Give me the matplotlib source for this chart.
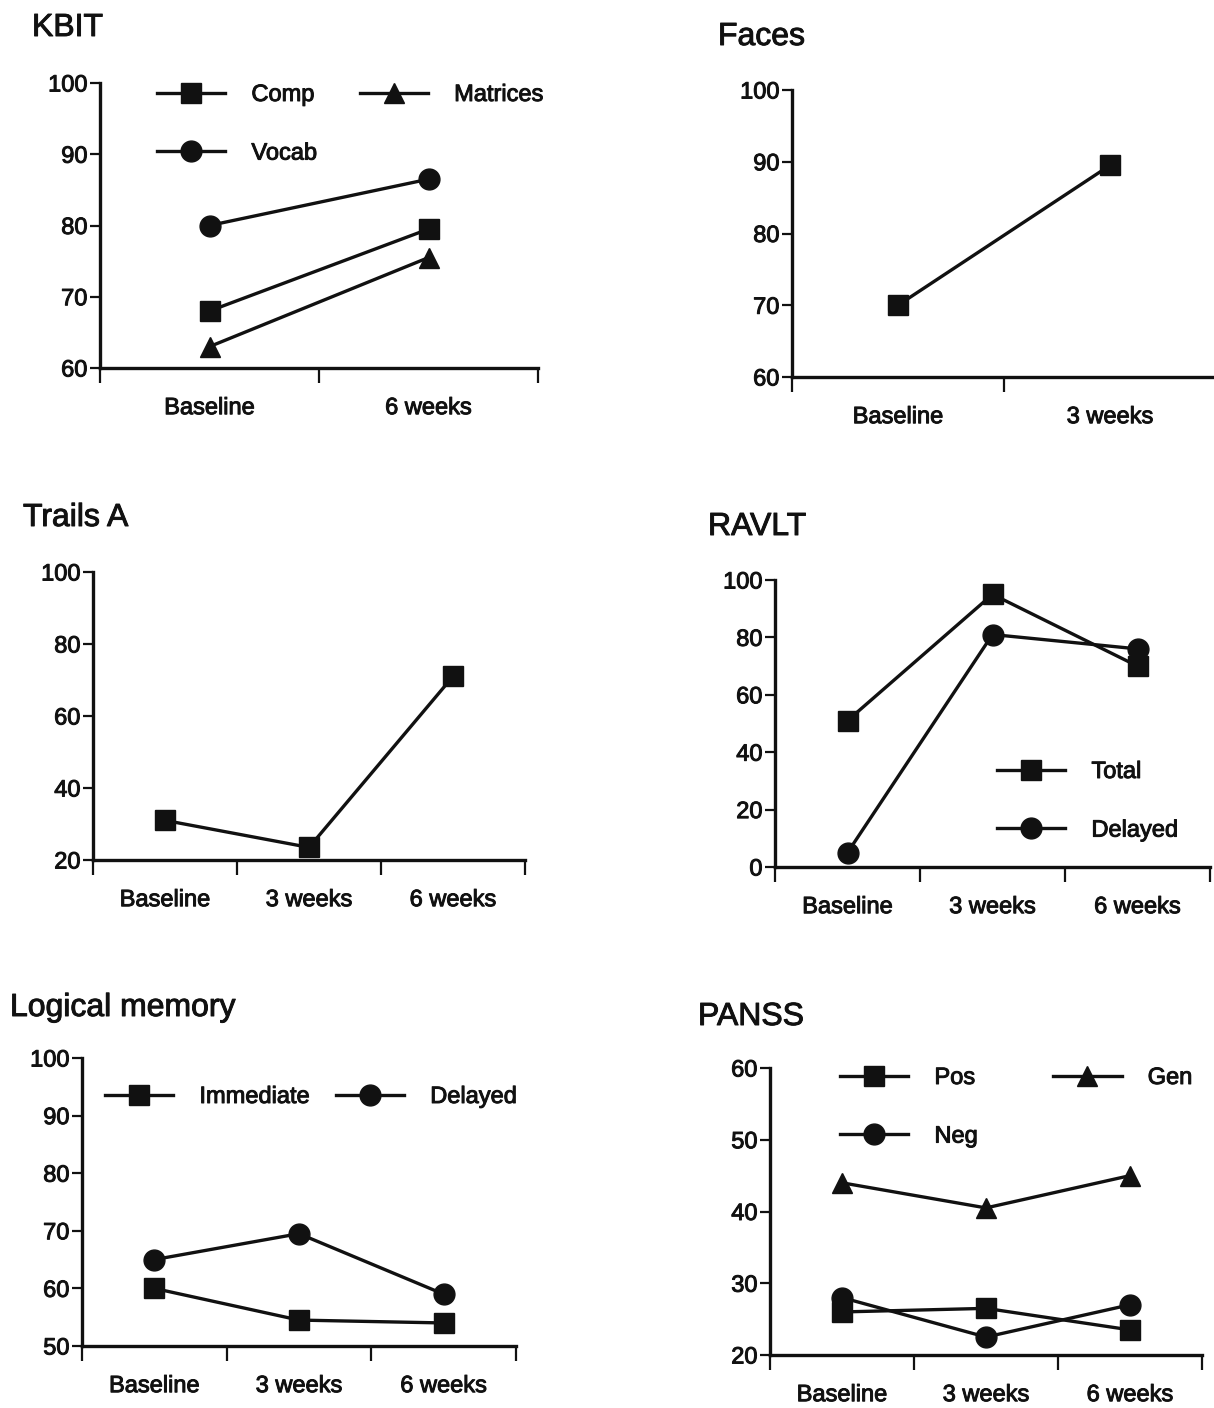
import matplotlib
matplotlib.use('Agg')
import matplotlib.pyplot as plt
import matplotlib.patheffects as pe

plt.rcParams['font.family'] = ['Liberation Sans', 'DejaVu Sans']

# ---------------- data ----------------
kbit_cats = ['Baseline', '6 weeks']
kbit_comp = [68, 79.5]
kbit_matrices = [63, 75.5]
kbit_vocab = [80, 86.5]

faces_cats = ['Baseline', '3 weeks']
faces_vals = [70, 89.5]

trails_cats = ['Baseline', '3 weeks', '6 weeks']
trails_vals = [31, 23.5, 71]

ravlt_cats = ['Baseline', '3 weeks', '6 weeks']
ravlt_total = [51, 95, 70]
ravlt_delayed = [5, 81, 76]

lm_cats = ['Baseline', '3 weeks', '6 weeks']
lm_immediate = [60, 54.5, 54]
lm_delayed = [65, 69.5, 59]

panss_cats = ['Baseline', '3 weeks', '6 weeks']
panss_pos = [26, 26.5, 23.5]
panss_neg = [28, 22.5, 27]
panss_gen = [44, 40.5, 45]

# ---------------- styling ----------------
W, H = 1214, 1408
fig = plt.figure(figsize=(W / 100, H / 100), dpi=100)
INK = '#111111'
FS = 17
TFS = 23
LW = 2.4
MS = 15
HEAVY = [pe.withStroke(linewidth=0.7, foreground=INK)]


def ax_at(left, top, right, bottom):
    return fig.add_axes([left / W, 1 - bottom / H, (right - left) / W, (bottom - top) / H])


def setup(ax, cats, ylim, yticks):
    n = len(cats)
    ax.set_xlim(-0.5, n - 0.5)
    ax.set_ylim(*ylim)
    ax.set_yticks(yticks)
    ax.set_xticks([i - 0.5 for i in range(n + 1)])
    ax.set_xticklabels([])
    ax.set_xticks(range(n), minor=True)
    ax.set_xticklabels(cats, minor=True)
    for s in ['top', 'right']:
        ax.spines[s].set_visible(False)
    for s in ['left', 'bottom']:
        ax.spines[s].set_linewidth(LW)
        ax.spines[s].set_color(INK)
    ax.tick_params(axis='x', which='major', direction='out', length=11, width=1.6, color=INK)
    ax.tick_params(axis='x', which='minor', length=0, pad=21, labelsize=FS, labelcolor=INK)
    ax.tick_params(axis='y', direction='out', length=7, width=1.6, pad=2, labelsize=FS,
                   labelcolor=INK, color=INK)
    for t in ax.get_xticklabels(minor=True) + ax.get_yticklabels():
        t.set_path_effects(HEAVY)
    ax.patch.set_alpha(0)


def series(ax, vals, marker, label=None):
    x = list(range(len(vals)))
    ax.plot(x, vals, color=INK, lw=LW, marker=marker, ms=MS, mfc=INK, mec=INK,
            clip_on=False, label=label)


def legend(ax, order, left_px, top_px, ncol, colsp):
    h, l = ax.get_legend_handles_labels()
    hs = [h[l.index(o)] for o in order]
    leg = ax.legend(hs, order, loc='upper left',
                    bbox_to_anchor=(left_px / W, 1 - top_px / H),
                    bbox_transform=fig.transFigure, frameon=False, ncol=ncol,
                    borderpad=0, borderaxespad=0, handlelength=2.9, handletextpad=1.1,
                    columnspacing=colsp, labelspacing=1.55, fontsize=FS, markerscale=1.0)
    for t in leg.get_texts():
        t.set_color(INK)
        t.set_path_effects(HEAVY)
    return leg


def title(x_px, y_px, text):
    fig.text(x_px / W, 1 - y_px / H, text, fontsize=TFS, color=INK, ha='left', va='center',
             path_effects=HEAVY)


# ---------------- KBIT ----------------
ax = ax_at(100, 83, 538, 368)
setup(ax, kbit_cats, (60, 100), [60, 70, 80, 90, 100])
series(ax, kbit_comp, 's', 'Comp')
series(ax, kbit_matrices, '^', 'Matrices')
series(ax, kbit_vocab, 'o', 'Vocab')
legend(ax, ['Comp', 'Vocab', 'Matrices'], 157, 84, 2, 1.8)
title(32, 28, 'KBIT')

# ---------------- Faces ----------------
ax = ax_at(792, 90, 1216, 377)
setup(ax, faces_cats, (60, 100), [60, 70, 80, 90, 100])
series(ax, faces_vals, 's')
title(718, 37, 'Faces')

# ---------------- Trails A ----------------
ax = ax_at(93, 572, 525, 860)
setup(ax, trails_cats, (20, 100), [20, 40, 60, 80, 100])
series(ax, trails_vals, 's')
title(23, 518, 'Trails A')

# ---------------- RAVLT ----------------
ax = ax_at(775, 580, 1210, 867)
setup(ax, ravlt_cats, (0, 100), [0, 20, 40, 60, 80, 100])
series(ax, ravlt_total, 's', 'Total')
series(ax, ravlt_delayed, 'o', 'Delayed')
legend(ax, ['Total', 'Delayed'], 997, 761, 1, 1.0)
title(708, 527, 'RAVLT')

# ---------------- Logical memory ----------------
ax = ax_at(82, 1058, 516, 1346)
setup(ax, lm_cats, (50, 100), [50, 60, 70, 80, 90, 100])
series(ax, lm_immediate, 's', 'Immediate')
series(ax, lm_delayed, 'o', 'Delayed')
legend(ax, ['Immediate', 'Delayed'], 105, 1086, 2, 1.1)
title(10, 1008, 'Logical memory')

# ---------------- PANSS ----------------
ax = ax_at(770, 1068, 1202, 1355)
setup(ax, panss_cats, (20, 60), [20, 30, 40, 50, 60])
series(ax, panss_pos, 's', 'Pos')
series(ax, panss_neg, 'o', 'Neg')
series(ax, panss_gen, '^', 'Gen')
legend(ax, ['Pos', 'Neg', 'Gen'], 840, 1067, 2, 3.2)
title(698, 1017, 'PANSS')

fig.savefig('out.png', dpi=100, facecolor='white')
